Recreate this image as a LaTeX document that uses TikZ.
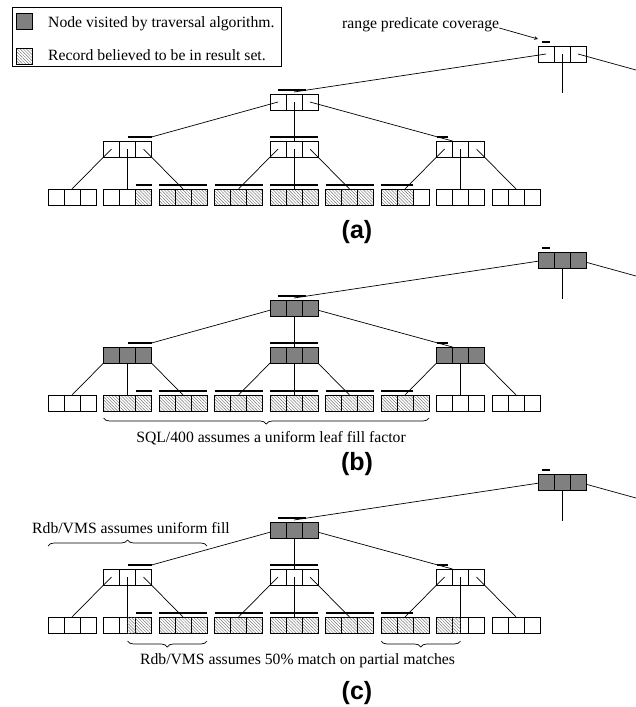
\documentclass[tikz,border=0pt]{standalone}
\usepackage{fontspec}
\setmainfont{Liberation Serif}
\setsansfont{Liberation Sans}
\usetikzlibrary{arrows,positioning,patterns.meta,decorations.pathreplacing,backgrounds}

\definecolor{visited}{gray}{0.5}

% a page of the tree: three boxes side by side
\newcommand{\pg}[6]{%
  \node[cell, #4, anchor=north west] (#1-1) at (#2,#3) {};
  \node[cell, #5, right=0pt of #1-1] (#1-2) {};
  \node[cell, #6, right=0pt of #1-2] (#1-3) {};
}

\begin{document}
\begin{tikzpicture}[
    x=1pt, y=-1pt,
    cell/.style={rectangle, draw=black, line width=0.8pt, minimum size=16pt, inner sep=0pt, outer sep=0pt},
    nofill/.style={},
    seen/.style={fill=visited},
    rec/.style={pattern={Lines[angle=-45,distance=2.2pt,line width=0.45pt]}, pattern color=black!55},
    link/.style={line width=0.7pt, draw=black},
    bar/.style={line width=2.6pt, draw=black},
    brc/.style={decorate, decoration={brace, amplitude=6pt}, line width=0.7pt},
    note/.style={font=\fontsize{15.7}{18}\selectfont, inner sep=0pt},
    tag/.style={font=\sffamily\bfseries\fontsize{25}{28}\selectfont, inner sep=0pt},
]
    \useasboundingbox (0,0) rectangle (636,707);

    % legend
    \draw[line width=0.8pt] (12,7) rectangle (281,66);
    \node[cell, seen, anchor=north west] (keyseen) at (16,13) {};
    \node[cell, rec, anchor=north west] (keyrec) at (16,48) {};
    \node[note, anchor=base west] (keyseentxt) at (48,27) {Node visited by traversal algorithm.};
    \node[note, anchor=base west] (keyrectxt) at (48,60) {Record believed to be in result set.};

    % (a)
    \pg{aroot}{538}{46}{nofill}{nofill}{nofill}
    \pg{aL1}{270}{94}{nofill}{nofill}{nofill}
    \pg{aL2l}{103.5}{141}{nofill}{nofill}{nofill}
    \pg{aL2m}{270}{141}{nofill}{nofill}{nofill}
    \pg{aL2r}{436.5}{141}{nofill}{nofill}{nofill}
    \pg{ag1}{48}{189}{nofill}{nofill}{nofill}
    \pg{ag2}{103.5}{189}{nofill}{nofill}{rec}
    \pg{ag3}{159}{189}{rec}{rec}{rec}
    \pg{ag4}{214.5}{189}{rec}{rec}{rec}
    \pg{ag5}{270}{189}{rec}{rec}{rec}
    \pg{ag6}{325.5}{189}{rec}{rec}{rec}
    \pg{ag7}{381}{189}{rec}{rec}{nofill}
    \pg{ag8}{436.5}{189}{nofill}{nofill}{nofill}
    \pg{ag9}{492}{189}{nofill}{nofill}{nofill}

    \node[note, anchor=base west] (range) at (342,28) {range predicate coverage};
    \draw[link, ->, >=stealth] (range.base east) -- ([yshift=7pt]aroot-1.north west);
    \node[tag, anchor=base] (taga) at (357,238) {(a)};

    % (b)
    \pg{broot}{538}{252}{seen}{seen}{seen}
    \pg{bL1}{270}{300}{seen}{seen}{seen}
    \pg{bL2l}{103.5}{347}{seen}{seen}{seen}
    \pg{bL2m}{270}{347}{seen}{seen}{seen}
    \pg{bL2r}{436.5}{347}{seen}{seen}{seen}
    \pg{bg1}{48}{395}{nofill}{nofill}{nofill}
    \pg{bg2}{103.5}{395}{rec}{rec}{rec}
    \pg{bg3}{159}{395}{rec}{rec}{rec}
    \pg{bg4}{214.5}{395}{rec}{rec}{rec}
    \pg{bg5}{270}{395}{rec}{rec}{rec}
    \pg{bg6}{325.5}{395}{rec}{rec}{rec}
    \pg{bg7}{381}{395}{rec}{rec}{rec}
    \pg{bg8}{436.5}{395}{nofill}{nofill}{nofill}
    \pg{bg9}{492}{395}{nofill}{nofill}{nofill}

    \draw[brc] ([yshift=-7pt]bg7-3.south east) -- ([yshift=-7pt]bg2-1.south west);
    \node[note, anchor=base] (sqltxt) at (271,442) {SQL/400 assumes a uniform leaf fill factor};
    \node[tag, anchor=base] (tagb) at (357,470) {(b)};

    % (c)
    \pg{croot}{538}{474}{seen}{seen}{seen}
    \pg{cL1}{270}{522}{seen}{seen}{seen}
    \pg{cL2l}{103.5}{569}{nofill}{nofill}{nofill}
    \pg{cL2m}{270}{569}{nofill}{nofill}{nofill}
    \pg{cL2r}{436.5}{569}{nofill}{nofill}{nofill}
    \pg{cg1}{48}{617}{nofill}{nofill}{nofill}
    \pg{cg2}{103.5}{617}{nofill}{nofill}{rec}
    \pg{cg3}{159}{617}{rec}{rec}{rec}
    \pg{cg4}{214.5}{617}{rec}{rec}{rec}
    \pg{cg5}{270}{617}{rec}{rec}{rec}
    \pg{cg6}{325.5}{617}{rec}{rec}{rec}
    \pg{cg7}{381}{617}{rec}{rec}{rec}
    \pg{cg8}{436.5}{617}{rec}{nofill}{nofill}
    \pg{cg9}{492}{617}{nofill}{nofill}{nofill}
    \fill[rec] (cg2-2.north) rectangle (cg2-2.south east);
    \fill[rec] (cg8-2.north west) rectangle (cg8-2.south);

    \coordinate (fillL) at (48,546);
    \coordinate (fillR) at (207,546);
    \draw[brc] (fillL) -- (fillR);
    \node[note, anchor=base west] (uniftxt) at (32,533) {Rdb/VMS assumes uniform fill};
    \draw[brc] ([yshift=-8pt]cg3-3.south east) -- ([yshift=-8pt]cg2-2.south);
    \draw[brc] ([yshift=-8pt]cg8-2.south) -- ([yshift=-8pt]cg7-1.south west);
    \node[note, anchor=base] (halftxt) at (297.5,664) {Rdb/VMS assumes 50\% match on partial matches};
    \node[tag, anchor=base] (tagc) at (357,699) {(c)};

    % connectors and range bars, same in every tree
    \begin{scope}[on background layer]
    \foreach \p/\dy in {a/0,b/206,c/428} {
        \coordinate (\p down) at (562,93+\dy);
        \coordinate (\p away) at (636,70+\dy);
        \draw[link] (\p root-1.center) -- ([yshift=2pt]\p L1-2.north);
        \draw[link] (\p root-2.center) -- (\p down);
        \draw[link] (\p root-3.center) -- (\p away);
        \draw[link] (\p L1-1.center) -- ([yshift=4pt]\p L2l-3.north east);
        \draw[link] (\p L1-2.center) -- (\p L2m-2.north);
        \draw[link] (\p L1-3.center) -- (\p L2r-2.north west);
        \draw[link] (\p L2l-1.center) -- (\p g1-2.north);
        \draw[link] (\p L2l-3.center) -- (\p g3-2.north);
        \draw[link] (\p L2m-1.center) -- (\p g4-2.north);
        \draw[link] (\p L2m-2.center) -- (\p g5-2.north);
        \draw[link] (\p L2m-3.center) -- (\p g6-2.north);
        \draw[link] (\p L2r-1.center) -- (\p g7-2.north);
        \draw[link] (\p L2r-3.center) -- (\p g9-2.north);
    }
    \draw[link] (aL2l-2.center) -- (ag2-2.north);
    \draw[link] (aL2r-2.center) -- (ag8-2.north);
    \draw[link] (bL2l-2.center) -- (bg2-2.north);
    \draw[link] (bL2r-2.center) -- (bg8-2.north);
    \draw[link] (cL2l-2.center) -- (cg2-2.south);
    \draw[link] (cL2r-2.center) -- (cg8-2.south);
    \end{scope}

    \foreach \p in {a,b,c} {
        \draw[bar] ([xshift=-4pt,yshift=4pt]\p root-1.north) -- ([xshift=4pt,yshift=4pt]\p root-1.north);
        \draw[bar] ([yshift=4pt]\p L1-1.north) -- ([xshift=4pt,yshift=4pt]\p L1-3.north west);
        \draw[bar] ([yshift=4pt]\p L2l-2.north) -- ([yshift=4pt]\p L2l-3.north east);
        \draw[bar] ([yshift=4pt]\p L2m-1.north west) -- ([yshift=4pt]\p L2m-3.north east);
        \draw[bar] ([yshift=4pt]\p L2r-1.north west) -- ([xshift=-5pt,yshift=4pt]\p L2r-1.north east);
        \draw[bar] ([yshift=4pt]\p g2-3.north west) -- ([yshift=4pt]\p g2-3.north east);
        \foreach \g in {3,...,6}
            \draw[bar] ([yshift=4pt]\p g\g-1.north west) -- ([yshift=4pt]\p g\g-3.north east);
        \draw[bar] ([yshift=4pt]\p g7-1.north west) -- ([yshift=4pt]\p g7-2.north east);
    }

\end{tikzpicture}
\end{document}
